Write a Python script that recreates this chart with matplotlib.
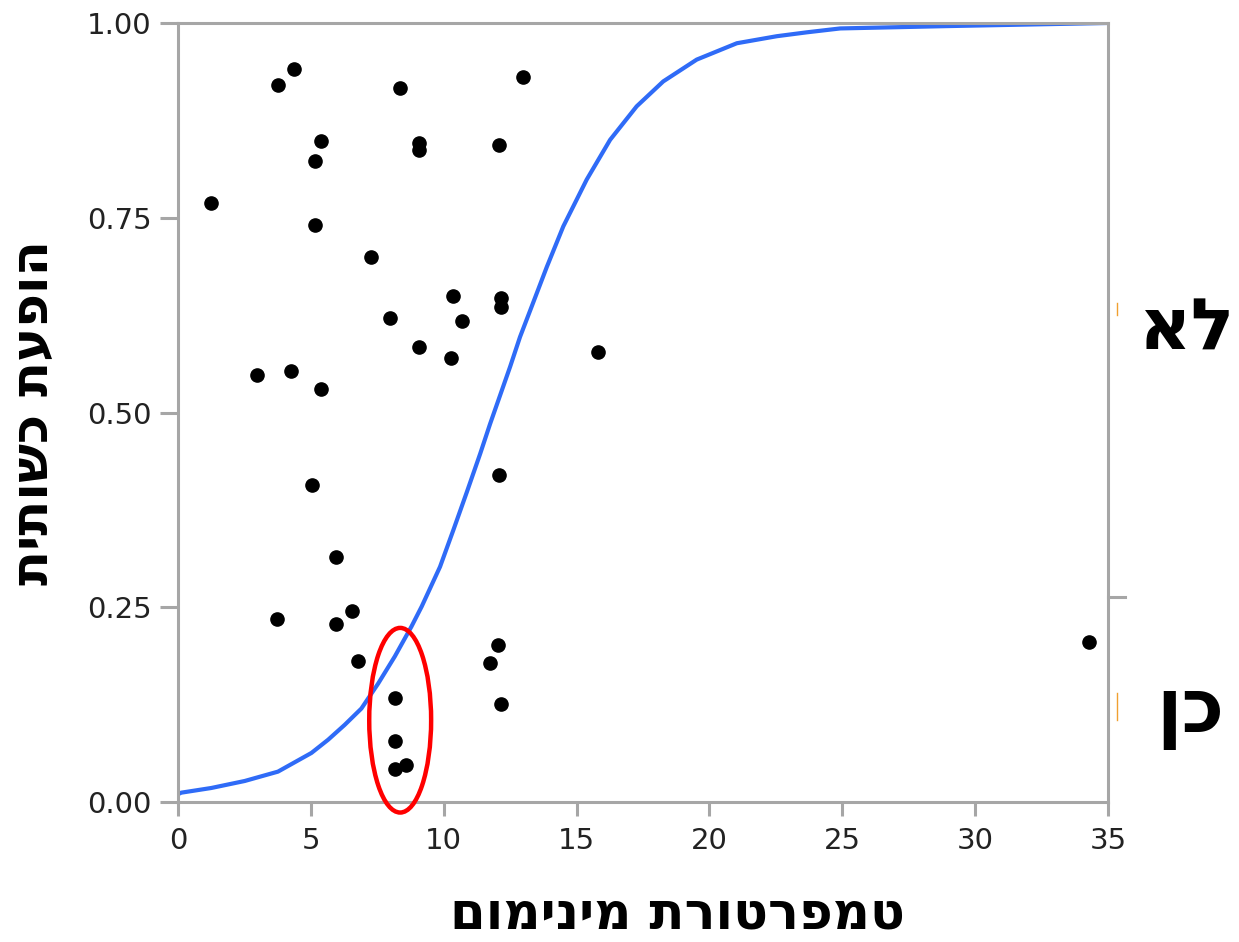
import matplotlib
matplotlib.use("Agg")
from matplotlib import pyplot as plt
from matplotlib.patches import Ellipse
from matplotlib.lines import Line2D

# observations: minimum temperature vs. jittered response position
temp = [1.25, 3.75, 4.37, 8.36, 12.97, 5.37, 5.16, 9.07, 9.07, 12.08,
        5.16, 7.25, 10.36, 12.17, 12.17, 7.97, 10.68, 9.07, 10.27, 15.80,
        2.96, 4.26, 5.37, 5.04, 12.08, 5.95, 3.74, 5.95, 6.55, 6.77,
        8.16, 8.16, 8.16, 8.58, 12.04, 11.74, 12.16, 34.29]
prob = [0.769, 0.920, 0.941, 0.917, 0.931, 0.849, 0.823, 0.846, 0.837, 0.843,
        0.741, 0.700, 0.649, 0.647, 0.636, 0.621, 0.618, 0.584, 0.570, 0.578,
        0.548, 0.553, 0.530, 0.407, 0.420, 0.315, 0.235, 0.228, 0.245, 0.181,
        0.133, 0.078, 0.042, 0.047, 0.202, 0.178, 0.126, 0.205]

# fitted logistic curve
curve_x = [0.0, 0.12, 1.25, 2.51, 3.76, 5.02, 5.65, 6.27, 6.90, 7.53, 8.16,
           8.78, 9.17, 9.86, 10.36, 10.87, 11.37, 11.74, 12.12, 12.50, 12.87,
           13.32, 13.88, 14.50, 15.38, 16.26, 17.26, 18.26, 19.52, 21.03,
           22.53, 23.66, 24.92, 28.94, 35.0]
curve_y = [0.010, 0.012, 0.018, 0.027, 0.039, 0.063, 0.080, 0.099, 0.120,
           0.152, 0.187, 0.225, 0.251, 0.302, 0.349, 0.398, 0.447, 0.485,
           0.522, 0.559, 0.597, 0.637, 0.687, 0.739, 0.799, 0.850, 0.893,
           0.925, 0.953, 0.974, 0.983, 0.988, 0.993, 0.996, 1.0]

xticks = [0, 5, 10, 15, 20, 25, 30, 35]
yticks = [0.0, 0.25, 0.5, 0.75, 1.0]
ytick_labels = ["0.00", "0.25", "0.50", "0.75", "1.00"]

xlabel = "טמפרטורת מינימום"
ylabel = "הופעת כשותית"
levels = ["לא", "כן"]
split = 0.263   # share of the "כן" level on the right axis

GRAY = "#a6a6a6"
heb = dict(family=["DejaVu Sans"], fontweight="bold", color="black")

fig = plt.figure(figsize=(12.39, 9.42), dpi=100)
ax = fig.add_axes([0.1437, 0.1486, 0.7506, 0.8270])

ax.plot(curve_x, curve_y, color="#2f6bf7", lw=3.0, zorder=2,
        solid_joinstyle="round")
ax.plot(temp, prob, "o", color="black", ms=9.5, zorder=3)

ell = Ellipse((8.36, 0.105), 2.33, 0.237, fill=False, ec="#ff0000", lw=3.2,
              clip_on=False, zorder=4)
ax.add_patch(ell)

ax.set_xlim(0, 35)
ax.set_ylim(0, 1)
ax.set_xticks(xticks)
ax.set_yticks(yticks)
ax.set_yticklabels(ytick_labels)
for s in ax.spines.values():
    s.set_color(GRAY)
    s.set_linewidth(2.2)
ax.tick_params(axis="x", length=10, width=2.2, color=GRAY, pad=8,
               labelsize=21, labelcolor="#222222")
ax.tick_params(axis="y", length=13, width=2.2, color=GRAY, pad=6,
               labelsize=21, labelcolor="#222222")

# matplotlib has no bidi layout, so Hebrew is fed in visual order
fig.text(0.547, 0.029, xlabel[::-1], fontsize=37, ha="center", va="center", **heb)
ax.set_ylabel(ylabel[::-1], fontsize=37, labelpad=20, **heb)

# right-hand response axis
ax.add_line(Line2D([1.0, 1.018], [split, split], transform=ax.transAxes,
                   color=GRAY, lw=2.2, clip_on=False))
ax.add_line(Line2D([1.010, 1.010], [0.625, 0.64], transform=ax.transAxes,
                   color="#f0a030", lw=1.0, clip_on=False))
ax.add_line(Line2D([1.010, 1.010], [0.105, 0.14], transform=ax.transAxes,
                   color="#f0a030", lw=1.0, clip_on=False))
fig.text(0.919, 0.650, levels[0][::-1], fontsize=52, va="center", ha="left", **heb)
fig.text(0.933, 0.243, levels[1][::-1], fontsize=54, va="center", ha="left", **heb)

fig.savefig("out.png", dpi=100)
